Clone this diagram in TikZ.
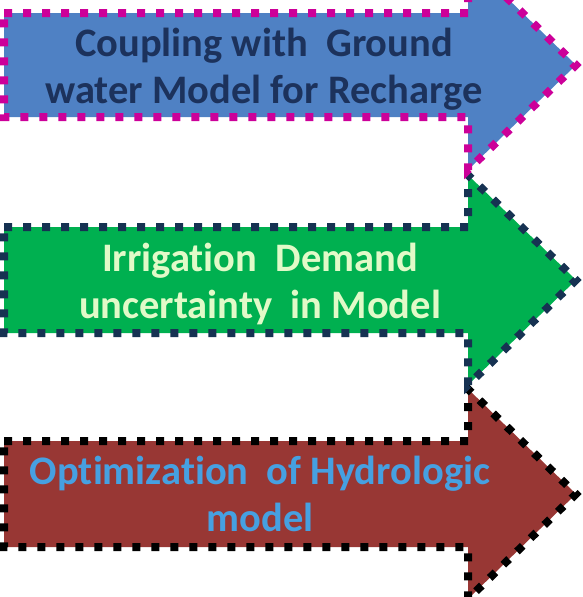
\documentclass[tikz,border=0pt]{standalone}
\usepackage{fontspec}
\setmainfont[Ligatures=NoCommon]{Carlito}
\definecolor{fblue}{RGB}{79,129,196}
\definecolor{bmag}{RGB}{204,0,153}
\definecolor{tnavy}{RGB}{28,50,92}
\definecolor{fgreen}{RGB}{0,176,80}
\definecolor{bnavy}{RGB}{22,50,82}
\definecolor{tpale}{RGB}{225,250,200}
\definecolor{fbrown}{RGB}{152,55,52}
\definecolor{tblue}{RGB}{70,160,225}
\tikzset{
  arrowshape/.style={line width=8pt, dash pattern=on 8pt off 11pt, line join=miter},
  arrowtext/.style={align=center, font=\fontsize{40.5}{47}\selectfont\bfseries, inner sep=0pt}
}
\begin{document}
\begin{tikzpicture}[x=1pt,y=-1pt]
\useasboundingbox (0,0) rectangle (582,597);
% bottom arrow
\draw[arrowshape, fill=fbrown, draw=black]
  (4,441) -- (468,441) -- (468,389) -- (576,494) -- (468,599) -- (468,547) -- (4,547) -- cycle;
\node[arrowtext, text=tblue] (t3) at (260,494) {Optimization\ \ of Hydrologic\\model};
% middle arrow
\draw[arrowshape, fill=fgreen, draw=bnavy]
  (4,227) -- (468,227) -- (468,175) -- (576,280) -- (468,385) -- (468,333) -- (4,333) -- cycle;
\node[arrowtext, text=tpale] (t2) at (260,284) {Irrigation\ \ Demand\\uncertainty\ \ in Model};
% top arrow
\draw[arrowshape, fill=fblue, draw=bmag]
  (4,13) -- (468,13) -- (468,-40) -- (576,65) -- (468,170) -- (468,117) -- (4,117) -- cycle;
\node[arrowtext, text=tnavy] (t1) at (264,69) {Coupling with\ \ Ground\\water Model for Recharge};
\end{tikzpicture}
\end{document}
